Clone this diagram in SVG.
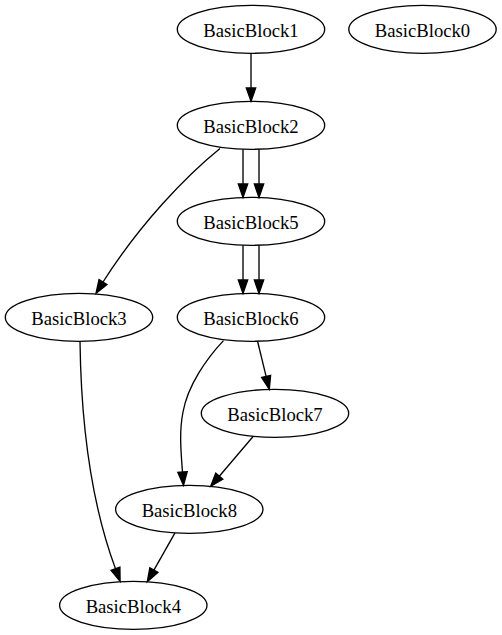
<svg xmlns="http://www.w3.org/2000/svg" width="502" height="635" viewBox="0 0 502 635">
<style>
.node ellipse{fill:none;stroke:#000;stroke-width:1.33}
.node text{font-family:"Liberation Serif","Times New Roman",serif;font-size:18.67px;text-anchor:middle;fill:#000}
.edge path{fill:none;stroke:#000;stroke-width:1.33}
.edge polygon{fill:#000;stroke:#000;stroke-width:1.33}
</style>
<rect width="502" height="635" fill="#fff"/>
<g id="connectors">
<g class="edge" id="e1_2"><path d="M251,53.3 L251,88"/><polygon points="246.3,88 255.7,88 251,101.3"/></g>
<g class="edge" id="e2_5a"><path d="M243,149.2 L243,184"/><polygon points="238.3,184 247.7,184 243,197.4"/></g>
<g class="edge" id="e2_5b"><path d="M259,149.2 L259,184"/><polygon points="254.3,184 263.7,184 259,197.4"/></g>
<g class="edge" id="e5_6a"><path d="M243,245.2 L243,280"/><polygon points="238.3,280 247.7,280 243,293.4"/></g>
<g class="edge" id="e5_6b"><path d="M259,245.2 L259,280"/><polygon points="254.3,280 263.7,280 259,293.4"/></g>
<g class="edge" id="e2_3"><path d="M220,148.5 C186,176 140,224 103,282"/><polygon points="106.97,284.46 99.03,279.54 96,293.3"/></g>
<g class="edge" id="e3_4"><path d="M80,341.3 C81,420 90,500 115.5,568.8"/><polygon points="119.9,567.2 111.1,570.4 120.1,581.3"/></g>
<g class="edge" id="e6_7"><path d="M257.5,341 L266.1,376.4"/><polygon points="270.6,375.3 261.6,377.5 269.3,389.3"/></g>
<g class="edge" id="e6_8"><path d="M223.5,340.6 C207,358 188,385 183,412 C179,432 181,452 182.5,472"/><polygon points="187.2,471.65 177.8,472.35 183.5,485.3"/></g>
<g class="edge" id="e7_8"><path d="M253.3,436.2 L219.3,476.2"/><polygon points="222.85,479.2 215.75,473.2 210.7,486.3"/></g>
<g class="edge" id="e8_4"><path d="M175,532.8 L153.9,570.1"/><polygon points="157.96,572.4 149.84,567.8 147.3,581.7"/></g>
</g>
<g class="node" id="BasicBlock1"><ellipse cx="251" cy="29.3" rx="73.7" ry="24"/><text x="251" y="37.3">BasicBlock1</text></g>
<g class="node" id="BasicBlock0"><ellipse cx="422.5" cy="29.3" rx="73.7" ry="24"/><text x="422.5" y="37.3">BasicBlock0</text></g>
<g class="node" id="BasicBlock2"><ellipse cx="251" cy="125.3" rx="73.7" ry="24"/><text x="251" y="133.3">BasicBlock2</text></g>
<g class="node" id="BasicBlock5"><ellipse cx="251" cy="221.3" rx="73.7" ry="24"/><text x="251" y="229.3">BasicBlock5</text></g>
<g class="node" id="BasicBlock3"><ellipse cx="79" cy="317.3" rx="73.7" ry="24"/><text x="79" y="325.3">BasicBlock3</text></g>
<g class="node" id="BasicBlock6"><ellipse cx="251" cy="317.3" rx="73.7" ry="24"/><text x="251" y="325.3">BasicBlock6</text></g>
<g class="node" id="BasicBlock7"><ellipse cx="275" cy="413.3" rx="73.7" ry="24"/><text x="275" y="421.3">BasicBlock7</text></g>
<g class="node" id="BasicBlock8"><ellipse cx="189.3" cy="509.3" rx="73.7" ry="24"/><text x="189.3" y="517.3">BasicBlock8</text></g>
<g class="node" id="BasicBlock4"><ellipse cx="133.3" cy="605.3" rx="73.7" ry="24"/><text x="133.3" y="613.3">BasicBlock4</text></g>
</svg>
